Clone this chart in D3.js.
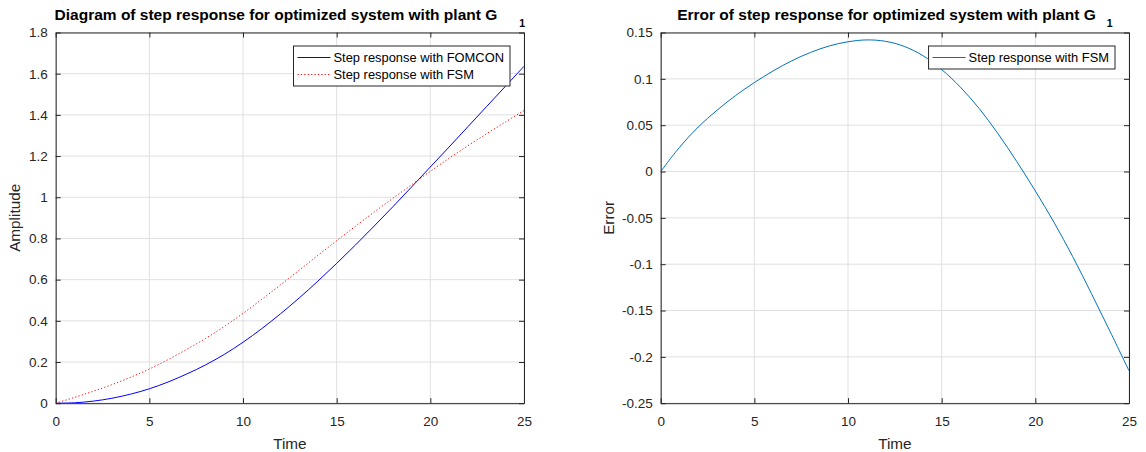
<!DOCTYPE html>
<html>
<head>
<meta charset="utf-8">
<script src="https://cdn.jsdelivr.net/npm/d3@7"></script>
<style>
	body { margin: 0; background: #fff; }
	svg { display: block; }
	text { font-family: "Liberation Sans", Arial, Helvetica, sans-serif; fill: #262626; }
</style>
</head>
<body>
<svg id="chart"></svg>
<script>
// sample times (s)
var time = [0, 1, 2, 3, 4, 5, 6, 7, 8, 9, 10, 11, 12, 13, 14, 15, 16, 17, 18, 19, 20, 21, 22, 23, 24, 25];

// step response, FOMCON
var fomcon = [0, 0.002, 0.010, 0.024, 0.044, 0.070, 0.103, 0.142, 0.186, 0.237, 0.296, 0.362, 0.434,
	0.511, 0.593, 0.679, 0.768, 0.860, 0.954, 1.050, 1.147, 1.244, 1.342, 1.440, 1.538, 1.636];

// step response, FSM
var fsm = [0, 0.028, 0.058, 0.090, 0.126, 0.166, 0.2115, 0.2615, 0.3145, 0.3725, 0.436, 0.504, 0.5745,
	0.646, 0.718, 0.789, 0.859, 0.928, 0.995, 1.061, 1.126, 1.189, 1.250, 1.308, 1.365, 1.421];

// error of FSM step response
var fsmError = [0, 0.026, 0.048, 0.066, 0.082, 0.096, 0.1085, 0.1195, 0.1285, 0.1355, 0.140, 0.142, 0.1405,
	0.135, 0.125, 0.110, 0.091, 0.068, 0.041, 0.011, -0.021, -0.055, -0.092, -0.132, -0.173, -0.215];

// ticks
var timeTicks = [0, 5, 10, 15, 20, 25];
var ampTicks = [0, 0.2, 0.4, 0.6, 0.8, 1, 1.2, 1.4, 1.6, 1.8];
var errTicks = [-0.25, -0.2, -0.15, -0.1, -0.05, 0, 0.05, 0.1, 0.15];

var width = 1146,
	height = 452;

var svg = d3.select("#chart").attr("width", width).attr("height", height);

var fmt = function (d) {
	return String(+d.toFixed(2));
};

function drawPanel(p) {
	var g = svg.append("g");

	var x = d3.scaleLinear().domain([0, 25]).range([p.left, p.right]);
	var y = d3.scaleLinear().domain(p.yDomain).range([p.bottom, p.top]);

	// grid
	g.append("g")
		.selectAll("line")
		.data(timeTicks)
		.enter()
		.append("line")
		.attr("x1", x).attr("x2", x)
		.attr("y1", p.top).attr("y2", p.bottom)
		.style("stroke", "#e0e0e0");
	g.append("g")
		.selectAll("line")
		.data(p.yTicks)
		.enter()
		.append("line")
		.attr("y1", y).attr("y2", y)
		.attr("x1", p.left).attr("x2", p.right)
		.style("stroke", "#e0e0e0");

	// clip for data
	var clipId = "clip" + p.id;
	svg.append("defs").append("clipPath").attr("id", clipId)
		.append("rect")
		.attr("x", p.left).attr("y", p.top)
		.attr("width", p.right - p.left).attr("height", p.bottom - p.top);

	var line = d3.line()
		.x(function (d, i) { return x(time[i]); })
		.y(function (d) { return y(d); })
		.curve(d3.curveCatmullRom);

	p.series.forEach(function (s) {
		g.append("path")
			.datum(s.values)
			.attr("clip-path", "url(#" + clipId + ")")
			.attr("d", line)
			.style("fill", "none")
			.style("stroke", s.color)
			.style("stroke-width", 1)
			.style("stroke-dasharray", s.dash || null);
	});

	// axes (ticks inward on all four sides)
	var axes = [
		{ axis: d3.axisBottom(x).tickValues(timeTicks).tickFormat(fmt).tickPadding(13), tr: "translate(0," + p.bottom + ")" },
		{ axis: d3.axisTop(x).tickValues(timeTicks).tickFormat(""), tr: "translate(0," + p.top + ")" },
		{ axis: d3.axisLeft(y).tickValues(p.yTicks).tickFormat(fmt).tickPadding(8), tr: "translate(" + p.left + ",0)" },
		{ axis: d3.axisRight(y).tickValues(p.yTicks).tickFormat(""), tr: "translate(" + p.right + ",0)" },
	];
	axes.forEach(function (a) {
		var ag = g.append("g")
			.attr("transform", a.tr)
			.call(a.axis.tickSize(-5).tickSizeOuter(0));
		ag.select(".domain").style("stroke", "#262626");
		ag.selectAll(".tick line").style("stroke", "#262626");
		ag.selectAll("text")
			.style("font-size", "13.5px")
			.style("fill", "#262626")
			.attr("font-family", null);
	});

	// axis labels
	g.append("text")
		.attr("x", (p.left + p.right) / 2)
		.attr("y", 449)
		.attr("text-anchor", "middle")
		.style("font-size", "15.3px")
		.text("Time");
	g.append("text")
		.attr("transform", "translate(" + p.yLabelX + "," + (p.top + p.bottom) / 2 + ") rotate(-90)")
		.attr("text-anchor", "middle")
		.style("font-size", "15.3px")
		.text(p.yLabel);

	// title with subscript
	var title = g.append("text")
		.attr("x", (p.left + p.right) / 2)
		.attr("y", 20)
		.attr("text-anchor", "middle")
		.style("font-size", "15.5px")
		.style("font-weight", "bold")
		.style("fill", "#000");
	title.append("tspan").text(p.title);
	title.append("tspan")
		.attr("dx", p.subGap)
		.attr("dy", 7)
		.style("font-size", "10.5px")
		.text("1");

	// legend
	var lg = g.append("g");
	var box = lg.append("rect").style("fill", "#fff").style("stroke", "#262626").style("stroke-width", 1);
	var maxW = 0;
	var texts = [];
	p.series.forEach(function (s, i) {
		var t = lg.append("text")
			.attr("dy", "0.35em")
			.style("font-size", "12.9px")
			.style("fill", "#000")
			.text(s.name);
		texts.push(t);
		maxW = Math.max(maxW, t.node().getComputedTextLength());
	});
	var bw = 40 + maxW + 6,
		bh = 17 * p.series.length + 6,
		bx = p.right - 14 - bw,
		by = p.top + 13.5;
	box.attr("x", bx).attr("y", by).attr("width", bw).attr("height", bh);
	p.series.forEach(function (s, i) {
		var cy = by + 11.5 + i * 17;
		lg.append("line")
			.attr("x1", bx + 4).attr("x2", bx + 37)
			.attr("y1", cy).attr("y2", cy)
			.style("stroke", s.color)
			.style("stroke-dasharray", s.dash || null);
		texts[i].attr("x", bx + 40).attr("y", cy);
	});
}

drawPanel({
	id: 1,
	left: 55.7, right: 524, top: 32.5, bottom: 403.2,
	yDomain: [0, 1.8],
	yTicks: ampTicks,
	yLabel: "Amplitude",
	yLabelX: 20,
	title: "Diagram of step response for optimized system with plant G",
	subGap: 22,
	series: [
		{ name: "Step response with FOMCON", values: fomcon, color: "#0000ff" },
		{ name: "Step response with FSM", values: fsm, color: "#ff0000", dash: "1.2,2.2" },
	],
});

drawPanel({
	id: 2,
	left: 660.7, right: 1129, top: 32.5, bottom: 403.2,
	yDomain: [-0.25, 0.15],
	yTicks: errTicks,
	yLabel: "Error",
	yLabelX: 613.5,
	title: "Error of step response for optimized system with plant G",
	subGap: 11,
	series: [
		{ name: "Step response with FSM", values: fsmError, color: "#0072bd" },
	],
});
</script>
</body>
</html>
